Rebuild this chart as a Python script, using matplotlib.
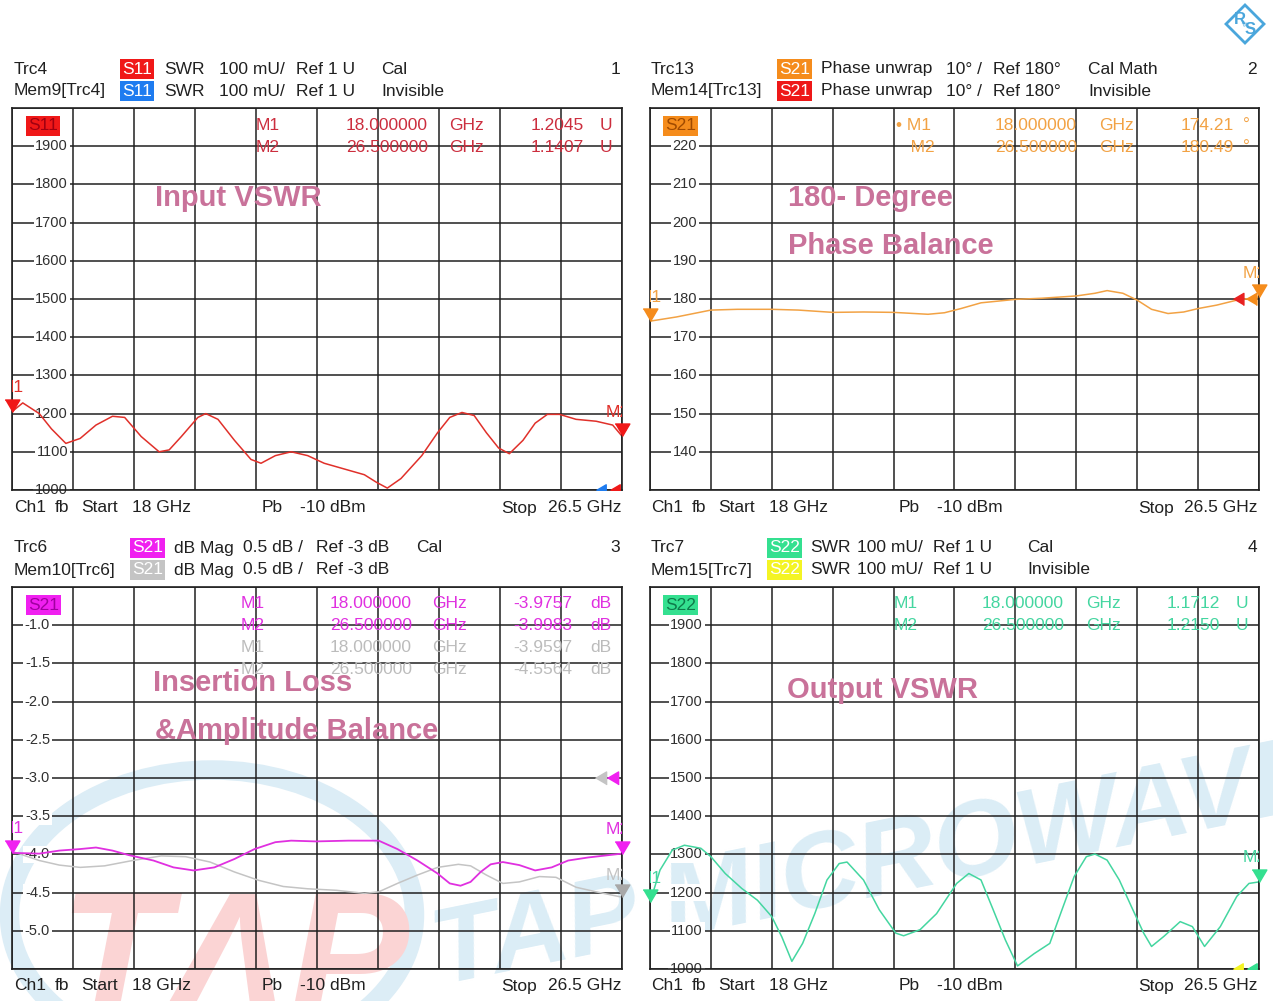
import matplotlib
matplotlib.use('Agg')
import matplotlib.pyplot as plt
import numpy as np
from matplotlib import patches, transforms

W, H = 1273, 1001
plt.rcParams['font.family'] = ['Liberation Sans', 'DejaVu Sans']

# ---------------- data ----------------
freq_start, freq_stop = 18.0, 26.5

s11_freq = [18.0, 18.15, 18.38, 18.55, 18.75, 18.95, 19.17, 19.40, 19.57, 19.80, 20.05, 20.19,
            20.36, 20.59, 20.70, 20.87, 21.10, 21.33, 21.47, 21.67, 21.89, 22.12, 22.35, 22.63,
            22.91, 23.08, 23.23, 23.42, 23.71, 23.93, 24.10, 24.27, 24.44, 24.61, 24.78, 24.93,
            25.12, 25.29, 25.46, 25.63, 25.86, 26.14, 26.37, 26.5]
s11_swr = [1205, 1228, 1200, 1160, 1122, 1135, 1170, 1193, 1190, 1140, 1100, 1105,
           1140, 1190, 1200, 1185, 1130, 1080, 1070, 1090, 1100, 1090, 1070, 1055,
           1040, 1020, 1005, 1030, 1090, 1150, 1190, 1203, 1195, 1150, 1110, 1095,
           1130, 1175, 1198, 1198, 1185, 1180, 1170, 1141]

ph_freq = [18.0, 18.37, 18.85, 19.22, 19.70, 20.07, 20.55, 20.98, 21.40, 21.88, 22.11, 22.34,
           22.62, 23.10, 23.47, 23.95, 24.21, 24.38, 24.60, 24.80, 25.00, 25.23, 25.45, 25.65,
           25.91, 26.19, 26.5]
ph_deg = [174.2, 175.3, 177.1, 177.3, 177.3, 177.1, 176.5, 176.6, 176.5, 176.0, 176.4, 177.5,
          179.0, 179.9, 180.2, 180.8, 181.5, 182.2, 181.5, 179.7, 177.3, 176.2, 176.6, 177.5,
          178.4, 179.7, 180.5]

il_freq = [18.0, 18.38, 18.66, 18.95, 19.17, 19.40, 19.63, 19.97, 20.25, 20.53, 20.82, 21.10,
           21.38, 21.67, 21.89, 22.23, 22.69, 23.11, 23.37, 23.65, 23.93, 24.10, 24.25, 24.39,
           24.53, 24.67, 24.84, 25.07, 25.29, 25.52, 25.75, 26.03, 26.31, 26.5]
il_db = [-3.98, -3.99, -3.95, -3.93, -3.91, -3.95, -4.01, -4.08, -4.17, -4.21, -4.17, -4.06,
         -3.93, -3.84, -3.82, -3.83, -3.82, -3.82, -3.93, -4.08, -4.25, -4.38, -4.41, -4.36,
         -4.23, -4.13, -4.10, -4.14, -4.21, -4.17, -4.08, -4.04, -4.01, -3.99]

mem_freq = [18.0, 18.38, 18.66, 18.95, 19.29, 19.68, 20.08, 20.42, 20.76, 21.10, 21.44, 21.78,
            22.12, 22.52, 22.91, 23.11, 23.37, 23.65, 23.93, 24.22, 24.39, 24.61, 24.84, 25.07,
            25.35, 25.58, 25.86, 26.14, 26.5]
mem_db = [-3.96, -4.08, -4.14, -4.17, -4.15, -4.08, -4.02, -4.03, -4.10, -4.23, -4.34, -4.42,
          -4.45, -4.47, -4.51, -4.49, -4.38, -4.27, -4.17, -4.13, -4.15, -4.27, -4.38, -4.36,
          -4.29, -4.30, -4.43, -4.49, -4.56]

s22_freq = [18.0, 18.14, 18.31, 18.48, 18.71, 18.85, 19.05, 19.28, 19.50, 19.70, 19.84, 19.98,
            20.13, 20.30, 20.47, 20.64, 20.75, 20.98, 21.20, 21.43, 21.54, 21.77, 22.00, 22.28,
            22.45, 22.62, 22.79, 22.96, 23.13, 23.36, 23.58, 23.75, 23.92, 24.09, 24.21, 24.38,
            24.55, 24.72, 24.89, 25.00, 25.17, 25.40, 25.57, 25.74, 25.96, 26.19, 26.36, 26.5]
s22_swr = [1175, 1259, 1311, 1324, 1316, 1294, 1250, 1211, 1180, 1137, 1084, 1020,
           1067, 1145, 1233, 1276, 1280, 1233, 1155, 1094, 1087, 1103, 1145, 1224,
           1250, 1233, 1155, 1076, 1008, 1040, 1067, 1155, 1242, 1294, 1301, 1285,
           1233, 1163, 1094, 1059, 1085, 1124, 1111, 1059, 1111, 1190, 1224, 1228]

swr_ticks = [1900, 1800, 1700, 1600, 1500, 1400, 1300, 1200, 1100, 1000]
swr_labels = ['1900', '1800', '1700', '1600', '1500', '1400', '1300', '1200', '1100', '1000']
ph_ticks = [220, 210, 200, 190, 180, 170, 160, 150, 140]
ph_labels = ['220', '210', '200', '190', '180', '170', '160', '150', '140']
db_ticks = [-1.0, -1.5, -2.0, -2.5, -3.0, -3.5, -4.0, -4.5, -5.0]
db_labels = ['-1.0', '-1.5', '-2.0', '-2.5', '-3.0', '-3.5', '-4.0', '-4.5', '-5.0']

# ---------------- colours ----------------
RED = '#f01818'; RED_T = '#e0302a'
BLUE = '#1e7cf0'
ORANGE = '#f58c1c'; ORANGE_T = '#f2a244'
MAG = '#f020f0'; MAG_T = '#e030e0'
GREY = '#c4c4c4'
GREEN = '#34e090'; GREEN_T = '#44d6a0'
YELLOW = '#f4f424'
TITLE_C = '#c9729a'
FS = 12.5

fig = plt.figure(figsize=(W / 100, H / 100), dpi=100)
fig.patch.set_facecolor('white')


def fx(x):
    return x / W


def fy(y):
    return 1 - y / H


# ---------------- watermark / logo overlay ----------------
ov = fig.add_axes([0, 0, 1, 1], zorder=0)
ov.set_xlim(0, W)
ov.set_ylim(H, 0)
ov.axis('off')
ov.add_patch(patches.Ellipse((212, 915), 405, 290, fill=False, lw=14, ec='#dcedf6'))
ov.text(58, 1018, 'TΛP', fontsize=130, fontstyle='italic', fontweight='bold',
        color='#fbd4d4', ha='left', va='baseline')
ov.text(440, 985, 'TAP MICROWAVE', fontsize=78, fontweight='bold', fontstyle='italic',
        color='#dbedf6', rotation=11.5, rotation_mode='anchor', ha='left', va='baseline')
ov.add_patch(patches.Polygon([(1245, 5), (1264, 24), (1245, 43), (1226, 24)], closed=True,
                             fc='white', ec='#4aa6dc', lw=2))
ov.text(1240, 20, 'R', fontsize=12, fontweight='bold', color='#4aa6dc', ha='center', va='center')
ov.text(1250, 30, 'S', fontsize=12, fontweight='bold', color='#4aa6dc', ha='center', va='center')
ov.text(1246, 24, '&', fontsize=6, color='#4aa6dc', ha='center', va='center', rotation=45)

DOWN = [(-1.0, 1.7), (1.0, 1.7), (0.0, 0.0)]
LEFT = [(0.0, 0.0), (1.7, 1.0), (1.7, -1.0)]


def make_panel(left, top, w, ylim, ticks, labels, label_right):
    h = 382
    ax = fig.add_axes([fx(left), fy(top + h), w / W, h / H], zorder=1)
    ax.set_facecolor('none')
    ax.set_xlim(freq_start, freq_stop)
    ax.set_ylim(*ylim)
    ax.set_xticks(np.linspace(freq_start, freq_stop, 11))
    ax.set_yticks(np.linspace(ylim[0], ylim[1], 11))
    ax.set_axisbelow(True)
    ax.grid(True, color='#202020', lw=1.1)
    ax.tick_params(length=0, labelleft=False, labelbottom=False)
    for s in ax.spines.values():
        s.set_color('#202020')
        s.set_linewidth(1.2)
    for v, lab in zip(ticks, labels):
        ax.text(label_right / w, v, lab, transform=ax.get_yaxis_transform(), ha='right',
                va='center', fontsize=10.5, color='#303030', zorder=1.5,
                bbox=dict(boxstyle='square,pad=0.12', fc='white', ec='none'))
    ax._w = w
    return ax


def mlabel(ax, x, y, txt, color, dx=0, dy=24):
    tr = transforms.offset_copy(ax.transData, fig=fig, x=dx, y=dy, units='dots')
    ax.text(x, y, txt, transform=tr, ha='center', va='center', fontsize=FS,
            color=color, clip_on=True, zorder=4)


def marker(ax, x, y, color, ms=18, shape=DOWN):
    ax.plot([x], [y], marker=shape, ms=ms, color=color, mec=color, clip_on=False,
            zorder=5, ls='none')


def refmark(ax, px_from_right, y, color, ms=16, clip=True):
    x = freq_stop - px_from_right * (freq_stop - freq_start) / ax._w
    ax.plot([x], [y], marker=LEFT, ms=ms, color=color, mec=color, clip_on=clip,
            zorder=5, ls='none')


def ftext(x, y, s, color='#202020', ha='left', fs=FS, **kw):
    fig.text(fx(x), fy(y), s, ha=ha, va='center', fontsize=fs, color=color, **kw)


def boxtext(x, y, s, fc, color='white', fs=FS):
    fig.text(fx(x), fy(y), s, ha='left', va='center', fontsize=fs, color=color,
             bbox=dict(boxstyle='square,pad=0.13', fc=fc, ec='none'))


def footer(off, y):
    ftext(off + 14, y, 'Ch1')
    ftext(off + 55, y, 'fb')
    ftext(off + 81, y, 'Start')
    ftext(off + 132, y, '18 GHz')
    ftext(off + 262, y, 'Pb')
    ftext(off + 300, y, '-10 dBm')
    ftext(off + 501, y, 'Stop')
    ftext(off + 621, y, '26.5 GHz', ha='right')


# ---------------- panel 1 : S11 ----------------
ax1 = make_panel(12, 108, 610, (1000, 2000), swr_ticks, swr_labels, 56)
ax1.plot(s11_freq, s11_swr, color=RED_T, lw=1.1)
refmark(ax1, 26, 1000, BLUE, ms=14)
refmark(ax1, 12, 1000, RED, ms=14)
marker(ax1, s11_freq[0], s11_swr[0], RED)
mlabel(ax1, s11_freq[0], s11_swr[0], 'M1', RED_T)
marker(ax1, s11_freq[-1], s11_swr[-1], RED)
mlabel(ax1, s11_freq[-1], s11_swr[-1], 'M2', RED_T, dx=-4)
ftext(14, 69, 'Trc4'); ftext(14, 91, 'Mem9[Trc4]')
boxtext(122, 69, 'S11', RED); boxtext(122, 91, 'S11', BLUE)
for yy in (69, 91):
    ftext(164, yy, 'SWR'); ftext(219, yy, '100 mU/'); ftext(296, yy, 'Ref 1 U')
ftext(381, 69, 'Cal'); ftext(381, 91, 'Invisible'); ftext(620, 69, '1', ha='right')
boxtext(28, 126, 'S11', RED, color='#a00010')
mc1 = '#cc2e3e'
for yy, m, f, v in ((125, 'M1', '18.000000', '1.2045'), (147, 'M2', '26.500000', '1.1407')):
    ftext(256, yy, m, mc1); ftext(428, yy, f, mc1, ha='right'); ftext(449, yy, 'GHz', mc1)
    ftext(584, yy, v, mc1, ha='right'); ftext(600, yy, 'U', mc1)
footer(0, 508)
ftext(155, 198, 'Input VSWR', TITLE_C, fs=21, fontweight='bold')

# ---------------- panel 2 : phase ----------------
ax2 = make_panel(650, 108, 609, (130, 230), ph_ticks, ph_labels, 47)
ax2.plot(ph_freq, ph_deg, color=ORANGE_T, lw=1.1)
refmark(ax2, 26, 180, '#e82020', ms=15)
refmark(ax2, 13, 180, ORANGE, ms=15, clip=False)
marker(ax2, ph_freq[0], ph_deg[0], ORANGE)
mlabel(ax2, ph_freq[0], ph_deg[0], 'M1', ORANGE_T)
marker(ax2, ph_freq[-1], ph_deg[-1], ORANGE)
mlabel(ax2, ph_freq[-1], ph_deg[-1], 'M2', ORANGE_T, dx=-4)
ftext(651, 69, 'Trc13'); ftext(651, 91, 'Mem14[Trc13]')
boxtext(779, 69, 'S21', ORANGE); boxtext(779, 91, 'S21', '#ee1818')
for yy in (69, 91):
    ftext(821, yy, 'Phase unwrap'); ftext(946, yy, '10° /'); ftext(993, yy, 'Ref 180°')
ftext(1088, 69, 'Cal Math'); ftext(1088, 91, 'Invisible'); ftext(1257, 69, '2', ha='right')
boxtext(665, 126, 'S21', ORANGE, color='#a04a00')
for yy, m, f, v in ((125, '• M1', '18.000000', '174.21'), (147, '   M2', '26.500000', '180.49')):
    ftext(896, yy, m, ORANGE_T); ftext(1077, yy, f, ORANGE_T, ha='right')
    ftext(1099, yy, 'GHz', ORANGE_T); ftext(1234, yy, v, ORANGE_T, ha='right')
    ftext(1243, yy, '°', ORANGE_T)
footer(637, 508)
ftext(788, 198, '180- Degree', TITLE_C, fs=21, fontweight='bold')
ftext(788, 246, 'Phase Balance', TITLE_C, fs=21, fontweight='bold')

# ---------------- panel 3 : insertion loss ----------------
ax3 = make_panel(12, 587, 610, (-5.5, -0.5), db_ticks, db_labels, 38)
ax3.plot(mem_freq, mem_db, color=GREY, lw=1.1)
ax3.plot(il_freq, il_db, color=MAG_T, lw=1.3)
refmark(ax3, 27, -3.0, GREY, ms=16)
refmark(ax3, 15, -3.0, MAG, ms=16)
marker(ax3, il_freq[0], il_db[0], MAG)
mlabel(ax3, il_freq[0], il_db[0], 'M1', MAG_T)
marker(ax3, mem_freq[-1], mem_db[-1], '#a8a8a8')
mlabel(ax3, mem_freq[-1], mem_db[-1], 'M2', GREY, dx=-4, dy=22)
marker(ax3, il_freq[-1], il_db[-1], MAG)
mlabel(ax3, il_freq[-1], il_db[-1], 'M2', MAG_T, dx=-4)
ftext(14, 548, 'Trc6'); ftext(14, 570, 'Mem10[Trc6]')
boxtext(132, 548, 'S21', MAG); boxtext(132, 570, 'S21', GREY)
for yy in (548, 570):
    ftext(174, yy, 'dB Mag'); ftext(243, yy, '0.5 dB /'); ftext(316, yy, 'Ref -3 dB')
ftext(416, 548, 'Cal'); ftext(620, 548, '3', ha='right')
boxtext(28, 605, 'S21', MAG, color='#a000a0')
rows3 = ((603, 'M1', '18.000000', '-3.9757', MAG_T), (625, 'M2', '26.500000', '-3.9983', MAG_T),
         (648, 'M1', '18.000000', '-3.9597', '#bcbcbc'), (670, 'M2', '26.500000', '-4.5564', '#bcbcbc'))
for yy, m, f, v, c in rows3:
    ftext(241, yy, m, c); ftext(412, yy, f, c, ha='right'); ftext(432, yy, 'GHz', c)
    ftext(572, yy, v, c, ha='right'); ftext(590, yy, 'dB', c)
footer(0, 986)
ftext(153, 683, 'Insertion Loss', TITLE_C, fs=21, fontweight='bold')
ftext(155, 731, '&Amplitude Balance', TITLE_C, fs=21, fontweight='bold')

# ---------------- panel 4 : S22 ----------------
ax4 = make_panel(650, 587, 609, (1000, 2000), swr_ticks, swr_labels, 53)
ax4.plot(s22_freq, s22_swr, color=GREEN_T, lw=1.1)
refmark(ax4, 26, 1000, YELLOW, ms=14)
refmark(ax4, 12, 1000, GREEN, ms=14)
marker(ax4, s22_freq[0], s22_swr[0], GREEN)
mlabel(ax4, s22_freq[0], s22_swr[0], 'M1', GREEN_T)
marker(ax4, s22_freq[-1], s22_swr[-1], GREEN)
mlabel(ax4, s22_freq[-1], s22_swr[-1], 'M2', GREEN_T, dx=-4)
ftext(651, 548, 'Trc7'); ftext(651, 570, 'Mem15[Trc7]')
boxtext(769, 548, 'S22', GREEN); boxtext(769, 570, 'S22', YELLOW)
for yy in (548, 570):
    ftext(810, yy, 'SWR'); ftext(857, yy, '100 mU/'); ftext(933, yy, 'Ref 1 U')
ftext(1027, 548, 'Cal'); ftext(1027, 570, 'Invisible'); ftext(1257, 548, '4', ha='right')
boxtext(665, 605, 'S22', GREEN, color='#0e7a4a')
for yy, m, f, v in ((603, 'M1', '18.000000', '1.1712'), (625, 'M2', '26.500000', '1.2150')):
    ftext(894, yy, m, GREEN_T); ftext(1064, yy, f, GREEN_T, ha='right')
    ftext(1086, yy, 'GHz', GREEN_T); ftext(1220, yy, v, GREEN_T, ha='right')
    ftext(1236, yy, 'U', GREEN_T)
footer(637, 986)
ftext(787, 690, 'Output VSWR', TITLE_C, fs=21, fontweight='bold')

fig.savefig('out.png', dpi=100)
